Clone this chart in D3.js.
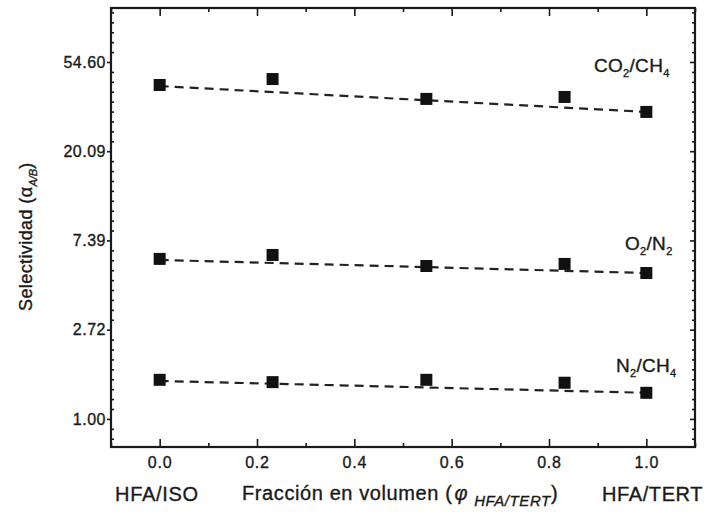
<!DOCTYPE html>
<html>
<head>
<meta charset="utf-8">
<script src="https://cdn.jsdelivr.net/npm/d3@7"></script>
<style>
  body { margin: 0; background: #fff; }
  text { font-family: "Liberation Sans", Arial, sans-serif; fill: #1a1a1a; stroke: #1a1a1a; stroke-width: 0.35px; }
</style>
</head>
<body>
<svg id="chart"></svg>
<script>
// volume fraction of HFA/TERT
var xValues = [0, 0.232, 0.548, 0.832, 1.0];

// selectivity per gas pair
var co2ch4 = [42.2, 45.1, 36.1, 36.9, 31.2];
var o2n2 = [6.01, 6.28, 5.55, 5.68, 5.13];
var n2ch4 = [1.55, 1.51, 1.55, 1.50, 1.34];

// dashed trend lines, value at x=0 and x=1
var fitX = [0, 1];
var co2ch4Fit = [41.7, 31.2];
var o2n2Fit = [5.94, 5.13];
var n2ch4Fit = [1.53, 1.34];

var xTicks = [0, 0.2, 0.4, 0.6, 0.8, 1.0];
var xTickLabels = ["0.0", "0.2", "0.4", "0.6", "0.8", "1.0"];
var yTicks = [1.00, 2.72, 7.39, 20.09, 54.60];
var yTickLabels = ["1.00", "2.72", "7.39", "20.09", "54.60"];

var width = 707, height = 516;
var margin = {left: 111, right: 12, top: 8, bottom: 69};
var w = width - margin.left - margin.right;
var h = height - margin.top - margin.bottom;

var svg = d3.select("#chart")
    .attr("width", width)
    .attr("height", height);

var g = svg.append("g")
    .attr("transform", "translate(" + margin.left + "," + margin.top + ")");

var x = d3.scaleLinear()
    .domain([-0.1, 1.1])
    .range([0, w]);

var y = d3.scaleLog()
    .base(Math.E)
    .domain([0.73, 100])
    .range([h, 0]);

var minorX = d3.range(-0.1, 1.101, 0.1).filter(function(v) {
    return xTicks.indexOf(+v.toFixed(1)) < 0;
});
var lnDomain = y.domain().map(Math.log);
var minorY = d3.range(Math.ceil(lnDomain[0] * 9), Math.floor(lnDomain[1] * 9) + 1)
    .filter(function(k) { return k % 9 !== 0; })
    .map(function(k) { return Math.exp(k / 9); });

// bottom axis: ticks point inward
var xAxis = g.append("g")
    .attr("transform", "translate(0," + h + ")")
    .call(d3.axisBottom(x)
        .tickValues(xTicks)
        .tickSize(-8)
        .tickPadding(21)
        .tickFormat(function(d, i) { return xTickLabels[i]; }));
xAxis.select(".domain").remove();
xAxis.selectAll("text")
    .attr("font-size", 16)
    .attr("letter-spacing", 0.8)
    .attr("dy", 0)
    .attr("fill", "#1a1a1a");

g.append("g")
    .attr("transform", "translate(0," + h + ")")
    .call(d3.axisBottom(x).tickValues(minorX).tickSize(-4).tickFormat(""))
    .call(function(a) { a.select(".domain").remove(); });

// top mirror ticks
g.append("g")
    .call(d3.axisTop(x).tickValues(xTicks).tickSize(-8).tickFormat(""))
    .call(function(a) { a.select(".domain").remove(); });
g.append("g")
    .call(d3.axisTop(x).tickValues(minorX).tickSize(-4).tickFormat(""))
    .call(function(a) { a.select(".domain").remove(); });

// left axis
var yAxis = g.append("g")
    .call(d3.axisLeft(y)
        .tickValues(yTicks)
        .tickSize(4)
        .tickPadding(1)
        .tickFormat(function(d, i) { return yTickLabels[i]; }));
yAxis.select(".domain").remove();
yAxis.selectAll("text")
    .attr("font-size", 16)
    .attr("letter-spacing", 0.5)
    .attr("fill", "#1a1a1a");

g.append("g")
    .call(d3.axisLeft(y).tickValues(minorY).tickSize(-3).tickFormat(""))
    .call(function(a) { a.select(".domain").remove(); });

g.append("g")
    .attr("transform", "translate(" + w + ",0)")
    .call(d3.axisRight(y).tickValues(yTicks).tickSize(-5).tickFormat(""))
    .call(function(a) { a.select(".domain").remove(); });
g.append("g")
    .attr("transform", "translate(" + w + ",0)")
    .call(d3.axisRight(y).tickValues(minorY).tickSize(-3).tickFormat(""))
    .call(function(a) { a.select(".domain").remove(); });

g.selectAll(".tick line").attr("stroke", "#1a1a1a").attr("stroke-width", 1.6);

// frame
g.append("rect")
    .attr("width", w)
    .attr("height", h)
    .attr("fill", "none")
    .attr("stroke", "#1a1a1a")
    .attr("stroke-width", 2.2);

var series = [
    {values: co2ch4, fit: co2ch4Fit},
    {values: o2n2, fit: o2n2Fit},
    {values: n2ch4, fit: n2ch4Fit}
];

var line = d3.line()
    .x(function(d) { return x(d[0]); })
    .y(function(d) { return y(d[1]); });

series.forEach(function(s) {
    g.append("path")
        .datum(fitX.map(function(v, i) { return [v, s.fit[i]]; }))
        .attr("fill", "none")
        .attr("stroke", "#222")
        .attr("stroke-width", 2.2)
        .attr("stroke-dasharray", "9,6")
        .attr("d", line);

    g.selectAll(null)
        .data(xValues.map(function(v, i) { return [v, s.values[i]]; }))
        .enter().append("rect")
        .attr("x", function(d) { return x(d[0]) - 6; })
        .attr("y", function(d) { return y(d[1]) - 6; })
        .attr("width", 12)
        .attr("height", 12)
        .attr("fill", "#111");
});

// series labels with subscripts
function subLabel(px, py, parts) {
    var t = svg.append("text")
        .attr("x", px)
        .attr("y", py)
        .attr("font-size", 19)
        .attr("letter-spacing", 0.3);
    parts.forEach(function(p) {
        if (p.sub) {
            t.append("tspan").attr("font-size", 11).attr("dy", 5).text(p.t);
        } else {
            t.append("tspan").attr("dy", p.back ? -5 : 0).text(p.t);
        }
    });
    return t;
}

subLabel(594, 72, [{t: "CO"}, {t: "2", sub: true}, {t: "/CH", back: true}, {t: "4", sub: true}]);
subLabel(625, 250, [{t: "O"}, {t: "2", sub: true}, {t: "/N", back: true}, {t: "2", sub: true}]);
subLabel(616, 372, [{t: "N"}, {t: "2", sub: true}, {t: "/CH", back: true}, {t: "4", sub: true}]);

// bottom labels
svg.append("text")
    .attr("x", 115)
    .attr("y", 501)
    .attr("font-size", 20)
    .attr("letter-spacing", 0.7)
    .text("HFA/ISO");

svg.append("text")
    .attr("x", 602)
    .attr("y", 501)
    .attr("font-size", 20)
    .attr("letter-spacing", 0.6)
    .text("HFA/TERT");

var xl = svg.append("text")
    .attr("x", 242)
    .attr("y", 500)
    .attr("font-size", 20)
    .attr("letter-spacing", 0.6);
xl.append("tspan").text("Fracción en volumen (");
xl.append("tspan").attr("font-style", "italic").attr("dx", 2).text("\u03C6");
xl.append("tspan").attr("font-style", "italic").attr("font-size", 15).attr("dx", 6).attr("dy", 6).text("HFA/TERT");
xl.append("tspan").attr("dy", -6).text(")");

// y label
var yl = svg.append("text")
    .attr("transform", "translate(32,311) rotate(-90)")
    .attr("font-size", 18)
    .attr("letter-spacing", 0.4);
yl.append("tspan").text("Selectividad (\u03B1");
yl.append("tspan").attr("font-style", "italic").attr("font-size", 11).attr("letter-spacing", 0).attr("dy", 5).text("A/B");
yl.append("tspan").attr("dy", -5).text(")");
</script>
</body>
</html>
